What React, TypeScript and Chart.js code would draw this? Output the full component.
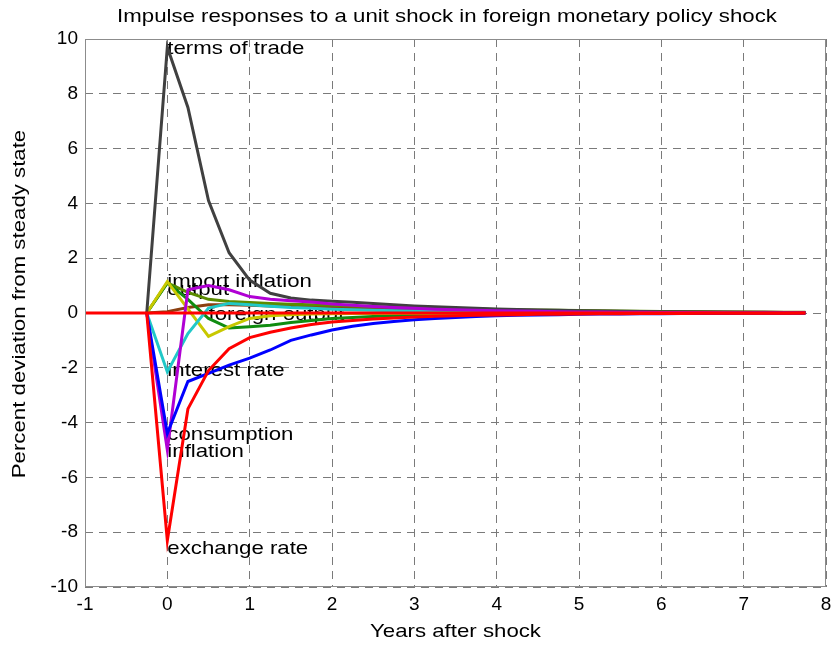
import React, { useEffect, useRef } from "react";
import { Chart, registerables } from "chart.js";

Chart.register(...registerables);

const years = [
  -0.25, 0, 0.25, 0.5, 0.75, 1, 1.25, 1.5, 1.75, 2, 2.25, 2.5, 2.75, 3, 3.25, 3.5, 3.75,
  4, 4.25, 4.5, 4.75, 5, 5.25, 5.5, 5.75, 6, 6.25, 6.5, 6.75, 7, 7.25, 7.5, 7.75,
];

const termsOfTrade = [
  0, 9.7, 7.5, 4.1, 2.2, 1.2, 0.72, 0.55, 0.47, 0.43, 0.39, 0.35, 0.3, 0.26, 0.23, 0.2, 0.17,
  0.15, 0.13, 0.11, 0.1, 0.08, 0.07, 0.06, 0.055, 0.05, 0.045, 0.04, 0.035, 0.03, 0.025, 0.02, 0.02,
];
const exchangeRate = [
  0, -8.3, -3.5, -2.1, -1.3, -0.9, -0.7, -0.55, -0.42, -0.33, -0.27, -0.22, -0.18, -0.15, -0.12, -0.1, -0.085,
  -0.07, -0.06, -0.05, -0.042, -0.035, -0.03, -0.025, -0.02, -0.018, -0.015, -0.012, -0.01, -0.008, -0.006, -0.005, -0.004,
];
const consumption = [
  0, -4.4, -2.5, -2.2, -1.9, -1.65, -1.35, -1.0, -0.8, -0.62, -0.48, -0.38, -0.31, -0.25, -0.2, -0.16, -0.13,
  -0.1, -0.085, -0.07, -0.06, -0.05, -0.04, -0.035, -0.03, -0.025, -0.02, -0.018, -0.015, -0.012, -0.01, -0.008, -0.007,
];
const inflation = [
  0, -5.0, 0.85, 1.0, 0.85, 0.6, 0.5, 0.45, 0.4, 0.33, 0.28, 0.24, 0.2, 0.17, 0.14, 0.12, 0.1,
  0.085, 0.07, 0.06, 0.05, 0.04, 0.035, 0.03, 0.025, 0.02, 0.017, 0.014, 0.012, 0.01, 0.008, 0.007, 0.006,
];
const interestRate = [
  0, -2.15, -0.75, 0.18, 0.35, 0.3, 0.25, 0.2, 0.17, 0.14, 0.12, 0.1, 0.08, 0.07, 0.06, 0.05, 0.04,
  0.035, 0.03, 0.025, 0.02, 0.018, 0.015, 0.012, 0.01, 0.009, 0.008, 0.007, 0.006, 0.005, 0.004, 0.004, 0.003,
];
const importInflation = [
  0, 1.15, 0.15, -0.85, -0.5, -0.2, -0.1, -0.06, -0.04, -0.03, -0.02, -0.015, -0.01, -0.008, -0.006, -0.005, -0.004,
  -0.003, -0.003, -0.002, -0.002, -0.002, -0.001, -0.001, -0.001, -0.001, 0, 0, 0, 0, 0, 0, 0,
];
const output = [
  0, 1.1, 0.5, -0.2, -0.55, -0.5, -0.45, -0.35, -0.27, -0.2, -0.16, -0.13, -0.1, -0.08, -0.065, -0.05, -0.04,
  -0.035, -0.03, -0.025, -0.02, -0.016, -0.013, -0.01, -0.008, -0.007, -0.006, -0.005, -0.004, -0.003, -0.003, -0.002, -0.002,
];
const foreignOutput = [
  0, 1.1, 0.75, 0.5, 0.42, 0.38, 0.35, 0.32, 0.3, 0.28, 0.26, 0.24, 0.22, 0.2, 0.18, 0.16, 0.15,
  0.13, 0.12, 0.11, 0.1, 0.09, 0.08, 0.07, 0.06, 0.055, 0.05, 0.045, 0.04, 0.035, 0.03, 0.028, 0.025,
];
const foreignRate = [
  0, 0.05, 0.2, 0.3, 0.3, 0.28, 0.26, 0.24, 0.22, 0.2, 0.18, 0.16, 0.15, 0.14, 0.13, 0.12, 0.11,
  0.1, 0.09, 0.08, 0.07, 0.065, 0.06, 0.055, 0.05, 0.045, 0.04, 0.035, 0.03, 0.027, 0.024, 0.021, 0.018,
];
const zeroLineX = [-1, 7.75];
const zeroLineY = [0, 0];

const labelTexts = [
  "terms of trade",
  "import inflation",
  "output",
  "foreign output",
  "interest rate",
  "consumption",
  "inflation",
  "exchange rate",
];
const labelX = [0, 0, 0, 0.5, 0, 0, 0, 0];
const labelY = [9.65, 1.13, 0.84, -0.05, -2.1, -4.45, -5.05, -8.6];

const xTicks = [-1, 0, 1, 2, 3, 4, 5, 6, 7, 8];
const yTicks = [-10, -8, -6, -4, -2, 0, 2, 4, 6, 8, 10];

const TITLE = "Impulse responses to a unit shock in foreign monetary policy shock";
const X_TITLE = "Years after shock";
const Y_TITLE = "Percent deviation from steady state";

const FONT = "'Liberation Sans', Arial, Helvetica, sans-serif";
const FS = 19;
const STRETCH = 1.17;

function stretchedText(ctx: any, text: string, x: number, y: number, align: "left" | "center") {
  ctx.save();
  ctx.translate(x, y);
  ctx.scale(STRETCH, 1);
  ctx.textAlign = align;
  ctx.fillText(text, 0, 0);
  ctx.restore();
}

const textPlugin = {
  id: "matlabText",
  beforeDatasetsDraw(chart: any) {
    const { ctx, scales } = chart;
    ctx.save();
    ctx.font = `${FS}px ${FONT}`;
    ctx.fillStyle = "#000";
    ctx.textBaseline = "middle";
    labelTexts.forEach((t, i) => {
      stretchedText(ctx, t, scales.x.getPixelForValue(labelX[i]), scales.y.getPixelForValue(labelY[i]), "left");
    });
    ctx.restore();
  },
  afterDraw(chart: any) {
    const { ctx, chartArea } = chart;
    const { left, right, top, bottom } = chartArea;
    ctx.save();
    ctx.strokeStyle = "#8c8c8c";
    ctx.lineWidth = 1;
    ctx.setLineDash([]);
    ctx.strokeRect(left + 0.5, top + 0.5, right - left - 1, bottom - top - 1);
    ctx.fillStyle = "#000";
    ctx.font = `${FS}px ${FONT}`;
    ctx.textBaseline = "middle";
    stretchedText(ctx, TITLE, 447, 17, "center");
    stretchedText(ctx, X_TITLE, (left + right) / 2, 632, "center");
    ctx.translate(20, 304);
    ctx.rotate(-Math.PI / 2);
    stretchedText(ctx, Y_TITLE, 0, 0, "center");
    ctx.restore();
  },
};

export default function App() {
  const ref = useRef<HTMLCanvasElement>(null);
  useEffect(() => {
    document.body.style.margin = "0";
    const canvas = ref.current;
    if (!canvas) return;
    const mk = (vals: number[], color: string, width: number) => ({
      data: years.map((x, i) => ({ x, y: vals[i] })),
      borderColor: color,
      backgroundColor: color,
      borderWidth: width,
      pointRadius: 0,
      fill: false,
      tension: 0,
    });
    const chart = new Chart(canvas, {
      type: "line",
      data: {
        datasets: [
          {
            data: zeroLineX.map((x, i) => ({ x, y: zeroLineY[i] })),
            borderColor: "#ff0000",
            borderWidth: 3,
            pointRadius: 0,
            fill: false,
          },
          mk(exchangeRate, "#ff0000", 3),
          mk(consumption, "#0000ff", 3),
          mk(inflation, "#b000d4", 3),
          mk(interestRate, "#20c8c8", 3),
          mk(termsOfTrade, "#404040", 3),
          mk(importInflation, "#c8c800", 3),
          mk(output, "#108c10", 3),
          mk(foreignOutput, "#5a8c00", 3),
          mk(foreignRate, "#8b3f10", 3),
        ],
      },
      options: {
        responsive: false,
        animation: false,
        layout: { padding: { left: 0, top: 39, right: 12, bottom: 0 } },
        plugins: { legend: { display: false }, tooltip: { enabled: false }, title: { display: false } },
        scales: {
          x: {
            type: "linear",
            min: -1,
            max: 8,
            afterBuildTicks: (s: any) => {
              s.ticks = xTicks.map((v) => ({ value: v }));
            },
            afterFit: (s: any) => {
              s.height = 62;
            },
            ticks: { color: "#000", font: { family: FONT, size: FS }, padding: 6, maxRotation: 0 },
            grid: { color: "#7a7a7a", lineWidth: 1, drawTicks: false },
            border: { display: false, dash: [8, 6] },
          },
          y: {
            type: "linear",
            min: -10,
            max: 10,
            afterBuildTicks: (s: any) => {
              s.ticks = yTicks.map((v) => ({ value: v }));
            },
            afterFit: (s: any) => {
              s.width = 85;
            },
            ticks: { color: "#000", font: { family: FONT, size: FS }, padding: 7 },
            grid: { color: "#7a7a7a", lineWidth: 1, drawTicks: false },
            border: { display: false, dash: [8, 6] },
          },
        },
      },
      plugins: [textPlugin],
    });
    return () => chart.destroy();
  }, []);
  return (
    <div style={{ position: "absolute", left: 0, top: 0, width: 838, height: 649, background: "#fff" }}>
      <canvas ref={ref} width={838} height={649} />
    </div>
  );
}
